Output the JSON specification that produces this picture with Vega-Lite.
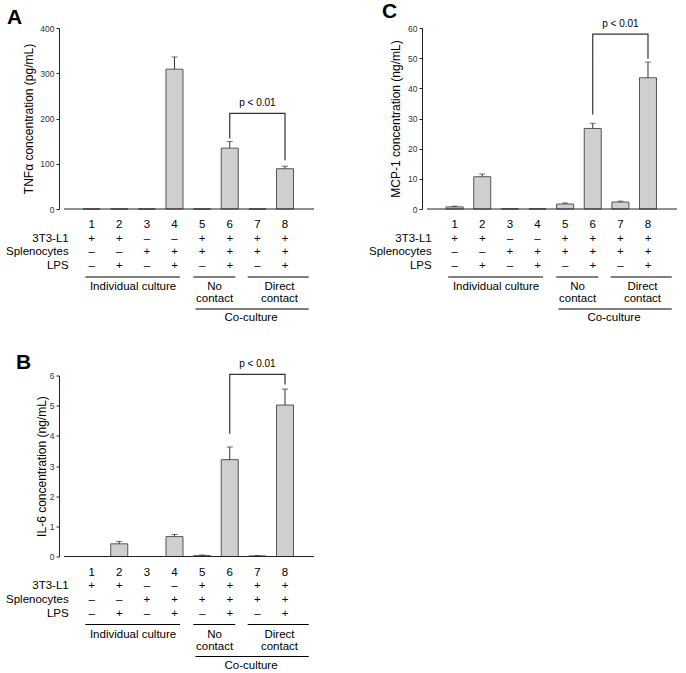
{
 "$schema": "https://vega.github.io/schema/vega-lite/v6.json",
 "background": "white",
 "padding": {"left": 6, "top": 1, "right": 0, "bottom": 0},
 "config": {"font": "Liberation Sans", "view": {"stroke": null}},
 "columns": 2,
 "align": "all",
 "spacing": {"row": 27.5, "column": 50},
 "datasets": {
  "barsA": [{"cond":1,"mean":0,"hi":0},{"cond":2,"mean":0,"hi":0},{"cond":3,"mean":0,"hi":0},{"cond":4,"mean":309,"hi":336},{"cond":5,"mean":0,"hi":0},{"cond":6,"mean":134.5,"hi":149},{"cond":7,"mean":0,"hi":0},{"cond":8,"mean":89,"hi":94.4}],
  "barsC": [{"cond":1,"mean":0.7,"hi":0.95},{"cond":2,"mean":10.7,"hi":11.6},{"cond":3,"mean":0.05,"hi":0.05},{"cond":4,"mean":0.05,"hi":0.05},{"cond":5,"mean":1.65,"hi":2.0},{"cond":6,"mean":26.7,"hi":28.4},{"cond":7,"mean":2.3,"hi":2.6},{"cond":8,"mean":43.5,"hi":48.7}],
  "barsB": [{"cond":1,"mean":0,"hi":0},{"cond":2,"mean":0.42,"hi":0.5},{"cond":3,"mean":0,"hi":0},{"cond":4,"mean":0.66,"hi":0.73},{"cond":5,"mean":0.03,"hi":0.05},{"cond":6,"mean":3.21,"hi":3.63},{"cond":7,"mean":0.02,"hi":0.03},{"cond":8,"mean":5.02,"hi":5.55}],
  "brA": [{"cond":6,"v":156,"o":1},{"cond":6,"v":211.5,"o":2},{"cond":8,"v":211.5,"o":3},{"cond":8,"v":108,"o":4}],
  "brC": [{"cond":6,"v":31.3,"o":1},{"cond":6,"v":58,"o":2},{"cond":8,"v":58,"o":3},{"cond":8,"v":49.8,"o":4}],
  "brB": [{"cond":6,"v":4.07,"o":1},{"cond":6,"v":6.04,"o":2},{"cond":8,"v":6.04,"o":3},{"cond":8,"v":5.7,"o":4}],
  "pA": [{"cond":7,"v":211.5,"label":"p < 0.01"}],
  "pC": [{"cond":7,"v":58,"label":"p < 0.01"}],
  "pB": [{"cond":7,"v":6.04,"label":"p < 0.01"}],
  "table": [
   {"cond":1,"row":"num","sign":"1"},{"cond":2,"row":"num","sign":"2"},{"cond":3,"row":"num","sign":"3"},{"cond":4,"row":"num","sign":"4"},{"cond":5,"row":"num","sign":"5"},{"cond":6,"row":"num","sign":"6"},{"cond":7,"row":"num","sign":"7"},{"cond":8,"row":"num","sign":"8"},
   {"cond":1,"row":"3T3-L1","sign":"+"},{"cond":2,"row":"3T3-L1","sign":"+"},{"cond":3,"row":"3T3-L1","sign":"–"},{"cond":4,"row":"3T3-L1","sign":"–"},{"cond":5,"row":"3T3-L1","sign":"+"},{"cond":6,"row":"3T3-L1","sign":"+"},{"cond":7,"row":"3T3-L1","sign":"+"},{"cond":8,"row":"3T3-L1","sign":"+"},
   {"cond":1,"row":"Splenocytes","sign":"–"},{"cond":2,"row":"Splenocytes","sign":"–"},{"cond":3,"row":"Splenocytes","sign":"+"},{"cond":4,"row":"Splenocytes","sign":"+"},{"cond":5,"row":"Splenocytes","sign":"+"},{"cond":6,"row":"Splenocytes","sign":"+"},{"cond":7,"row":"Splenocytes","sign":"+"},{"cond":8,"row":"Splenocytes","sign":"+"},
   {"cond":1,"row":"LPS","sign":"–"},{"cond":2,"row":"LPS","sign":"+"},{"cond":3,"row":"LPS","sign":"–"},{"cond":4,"row":"LPS","sign":"+"},{"cond":5,"row":"LPS","sign":"–"},{"cond":6,"row":"LPS","sign":"+"},{"cond":7,"row":"LPS","sign":"–"},{"cond":8,"row":"LPS","sign":"+"}
  ],
  "rowlabels": [{"row":"3T3-L1"},{"row":"Splenocytes"},{"row":"LPS"}],
  "lines1": [{"x1":0.77,"x2":4.2,"row":"grp"},{"x1":4.68,"x2":6.2,"row":"grp"},{"x1":6.65,"x2":8.86,"row":"grp"}],
  "lines2": [{"x1":4.76,"x2":8.86,"row":"co"}],
  "groups": [{"xc":2.5,"row":"grp","label":"Individual culture"},{"xc":5.45,"row":"grp","label":"No\ncontact"},{"xc":7.8,"row":"grp","label":"Direct\ncontact"}],
  "co": [{"xc":6.77,"row":"co","label":"Co-culture"}]
 },
 "concat": [
  {
   "title": {"text":"A","anchor":"start","frame":"group","dx":-52,"offset":-4,"fontSize":21,"fontWeight":"bold","color":"#000"},
   "width": 260, "height": 296,
   "resolve": {"scale": {"y": "independent"}},
   "layer": [
    {"layer": [
     {"data":{"name":"barsA"},
      "mark":{"type":"bar","orient":"vertical","width":17,"fill":"#cfcfcf","stroke":"#555555","strokeWidth":1},
      "encoding":{
       "x":{"field":"cond","type":"quantitative","scale":{"domain":[0,9.05],"nice":false,"zero":false},"axis":null},
       "y":{"field":"mean","type":"quantitative","title":"TNFα concentration (pg/mL)","scale":{"domain":[0,400],"range":[181,0],"nice":false},
            "axis":{"values":[0,100,200,300,400],"tickSize":3,"labelFontSize":8.5,"labelColor":"#333","titleFontSize":12,"titleFontWeight":"normal","titleColor":"#000","domainColor":"#222","tickColor":"#222","grid":false,"labelPadding":2,"titlePadding":4}}}},
     {"data":{"name":"barsA"},"transform":[{"filter":"datum.hi > datum.mean"}],
      "mark":{"type":"rule","color":"#333333","strokeWidth":1},
      "encoding":{"x":{"field":"cond","type":"quantitative","axis":null},"y":{"field":"mean","type":"quantitative","title":"TNFα concentration (pg/mL)"},"y2":{"field":"hi"}}},
     {"data":{"name":"barsA"},"transform":[{"filter":"datum.hi > datum.mean"}],
      "mark":{"type":"tick","orient":"horizontal","size":6,"thickness":1,"color":"#333333"},
      "encoding":{"x":{"field":"cond","type":"quantitative","axis":null},"y":{"field":"hi","type":"quantitative","title":"TNFα concentration (pg/mL)"}}},
     {"data":{"values":[{}]},"mark":{"type":"rule","color":"#222222","strokeWidth":1},
      "encoding":{"x":{"datum":0,"type":"quantitative","axis":null},"x2":{"datum":9.05},"y":{"datum":0,"type":"quantitative","title":"TNFα concentration (pg/mL)"}}},
     {"data":{"name":"brA"},"mark":{"type":"line","color":"#333333","strokeWidth":1.2},
      "encoding":{"x":{"field":"cond","type":"quantitative","axis":null},"y":{"field":"v","type":"quantitative","title":"TNFα concentration (pg/mL)"},"order":{"field":"o"}}},
     {"data":{"name":"pA"},"mark":{"type":"text","fontSize":10,"baseline":"alphabetic","dy":-7,"color":"#000"},
      "encoding":{"x":{"field":"cond","type":"quantitative","axis":null},"y":{"field":"v","type":"quantitative","title":"TNFα concentration (pg/mL)"},"text":{"field":"label"}}}
    ]},
    {"layer": [
     {"data":{"name":"table"},"mark":{"type":"text","fontSize":11.5,"color":"#000"},
      "encoding":{"x":{"field":"cond","type":"quantitative","axis":null},
                  "y":{"field":"row","type":"nominal","axis":null,"scale":{"type":"point","domain":["num","3T3-L1","Splenocytes","LPS","grp","gap","co"],"range":[197,279.2],"padding":0}},
                  "text":{"field":"sign"}}},
     {"data":{"name":"rowlabels"},"mark":{"type":"text","fontSize":11.5,"align":"right","color":"#000"},
      "encoding":{"x":{"datum":0.17,"type":"quantitative","axis":null},"y":{"field":"row","type":"nominal","axis":null},"text":{"field":"row"}}},
     {"data":{"name":"lines1"},"mark":{"type":"rule","color":"#000","strokeWidth":1},
      "encoding":{"x":{"field":"x1","type":"quantitative","axis":null},"x2":{"field":"x2"},"y":{"field":"row","type":"nominal","axis":null},"yOffset":{"value":-2.8}}},
     {"data":{"name":"lines2"},"mark":{"type":"rule","color":"#000","strokeWidth":1},
      "encoding":{"x":{"field":"x1","type":"quantitative","axis":null},"x2":{"field":"x2"},"y":{"field":"row","type":"nominal","axis":null},"yOffset":{"value":1.8}}},
     {"data":{"name":"groups"},"mark":{"type":"text","fontSize":11.5,"baseline":"top","lineBreak":"\n","lineHeight":12,"dy":1.5,"color":"#000"},
      "encoding":{"x":{"field":"xc","type":"quantitative","axis":null},"y":{"field":"row","type":"nominal","axis":null},"text":{"field":"label"}}},
     {"data":{"name":"co"},"mark":{"type":"text","fontSize":11.5,"baseline":"top","dy":5,"color":"#000"},
      "encoding":{"x":{"field":"xc","type":"quantitative","axis":null},"y":{"field":"row","type":"nominal","axis":null},"text":{"field":"label"}}}
    ]}
   ]
  },
  {
   "title": {"text":"C","anchor":"start","frame":"group","dx":-40,"offset":-3,"fontSize":21,"fontWeight":"bold","color":"#000"},
   "width": 260, "height": 296,
   "resolve": {"scale": {"y": "independent"}},
   "layer": [
    {"layer": [
     {"data":{"name":"barsC"},
      "mark":{"type":"bar","orient":"vertical","width":17,"fill":"#cfcfcf","stroke":"#555555","strokeWidth":1},
      "encoding":{
       "x":{"field":"cond","type":"quantitative","scale":{"domain":[0,9.05],"nice":false,"zero":false},"axis":null},
       "y":{"field":"mean","type":"quantitative","title":"MCP-1 concentration (ng/mL)","scale":{"domain":[0,60],"range":[181,0],"nice":false},
            "axis":{"values":[0,10,20,30,40,50,60],"tickSize":3,"labelFontSize":8.5,"labelColor":"#333","titleFontSize":12,"titleFontWeight":"normal","titleColor":"#000","domainColor":"#222","tickColor":"#222","grid":false,"labelPadding":2,"titlePadding":5}}}},
     {"data":{"name":"barsC"},"transform":[{"filter":"datum.hi > datum.mean"}],
      "mark":{"type":"rule","color":"#333333","strokeWidth":1},
      "encoding":{"x":{"field":"cond","type":"quantitative","axis":null},"y":{"field":"mean","type":"quantitative","title":"MCP-1 concentration (ng/mL)"},"y2":{"field":"hi"}}},
     {"data":{"name":"barsC"},"transform":[{"filter":"datum.hi > datum.mean"}],
      "mark":{"type":"tick","orient":"horizontal","size":6,"thickness":1,"color":"#333333"},
      "encoding":{"x":{"field":"cond","type":"quantitative","axis":null},"y":{"field":"hi","type":"quantitative","title":"MCP-1 concentration (ng/mL)"}}},
     {"data":{"values":[{}]},"mark":{"type":"rule","color":"#222222","strokeWidth":1},
      "encoding":{"x":{"datum":0,"type":"quantitative","axis":null},"x2":{"datum":9.05},"y":{"datum":0,"type":"quantitative","title":"MCP-1 concentration (ng/mL)"}}},
     {"data":{"name":"brC"},"mark":{"type":"line","color":"#333333","strokeWidth":1.2},
      "encoding":{"x":{"field":"cond","type":"quantitative","axis":null},"y":{"field":"v","type":"quantitative","title":"MCP-1 concentration (ng/mL)"},"order":{"field":"o"}}},
     {"data":{"name":"pC"},"mark":{"type":"text","fontSize":10,"baseline":"alphabetic","dy":-7,"color":"#000"},
      "encoding":{"x":{"field":"cond","type":"quantitative","axis":null},"y":{"field":"v","type":"quantitative","title":"MCP-1 concentration (ng/mL)"},"text":{"field":"label"}}}
    ]},
    {"layer": [
     {"data":{"name":"table"},"mark":{"type":"text","fontSize":11.5,"color":"#000"},
      "encoding":{"x":{"field":"cond","type":"quantitative","axis":null},
                  "y":{"field":"row","type":"nominal","axis":null,"scale":{"type":"point","domain":["num","3T3-L1","Splenocytes","LPS","grp","gap","co"],"range":[197,279.2],"padding":0}},
                  "text":{"field":"sign"}}},
     {"data":{"name":"rowlabels"},"mark":{"type":"text","fontSize":11.5,"align":"right","color":"#000"},
      "encoding":{"x":{"datum":0.17,"type":"quantitative","axis":null},"y":{"field":"row","type":"nominal","axis":null},"text":{"field":"row"}}},
     {"data":{"name":"lines1"},"mark":{"type":"rule","color":"#000","strokeWidth":1},
      "encoding":{"x":{"field":"x1","type":"quantitative","axis":null},"x2":{"field":"x2"},"y":{"field":"row","type":"nominal","axis":null},"yOffset":{"value":-2.8}}},
     {"data":{"name":"lines2"},"mark":{"type":"rule","color":"#000","strokeWidth":1},
      "encoding":{"x":{"field":"x1","type":"quantitative","axis":null},"x2":{"field":"x2"},"y":{"field":"row","type":"nominal","axis":null},"yOffset":{"value":1.8}}},
     {"data":{"name":"groups"},"mark":{"type":"text","fontSize":11.5,"baseline":"top","lineBreak":"\n","lineHeight":12,"dy":1.5,"color":"#000"},
      "encoding":{"x":{"field":"xc","type":"quantitative","axis":null},"y":{"field":"row","type":"nominal","axis":null},"text":{"field":"label"}}},
     {"data":{"name":"co"},"mark":{"type":"text","fontSize":11.5,"baseline":"top","dy":5,"color":"#000"},
      "encoding":{"x":{"field":"xc","type":"quantitative","axis":null},"y":{"field":"row","type":"nominal","axis":null},"text":{"field":"label"}}}
    ]}
   ]
  },
  {
   "title": {"text":"B","anchor":"start","frame":"group","dx":-43,"offset":-14,"fontSize":21,"fontWeight":"bold","color":"#000"},
   "width": 260, "height": 296,
   "resolve": {"scale": {"y": "independent"}},
   "layer": [
    {"layer": [
     {"data":{"name":"barsB"},
      "mark":{"type":"bar","orient":"vertical","width":17,"fill":"#cfcfcf","stroke":"#555555","strokeWidth":1},
      "encoding":{
       "x":{"field":"cond","type":"quantitative","scale":{"domain":[0,9.05],"nice":false,"zero":false},"axis":null},
       "y":{"field":"mean","type":"quantitative","title":"IL-6 concentration (ng/mL)","scale":{"domain":[0,6],"range":[181,0],"nice":false},
            "axis":{"values":[0,1,2,3,4,5,6],"tickSize":3,"labelFontSize":8.5,"labelColor":"#333","titleFontSize":12,"titleFontWeight":"normal","titleColor":"#000","domainColor":"#222","tickColor":"#222","grid":false,"labelPadding":2,"titlePadding":1}}}},
     {"data":{"name":"barsB"},"transform":[{"filter":"datum.hi > datum.mean"}],
      "mark":{"type":"rule","color":"#333333","strokeWidth":1},
      "encoding":{"x":{"field":"cond","type":"quantitative","axis":null},"y":{"field":"mean","type":"quantitative","title":"IL-6 concentration (ng/mL)"},"y2":{"field":"hi"}}},
     {"data":{"name":"barsB"},"transform":[{"filter":"datum.hi > datum.mean"}],
      "mark":{"type":"tick","orient":"horizontal","size":6,"thickness":1,"color":"#333333"},
      "encoding":{"x":{"field":"cond","type":"quantitative","axis":null},"y":{"field":"hi","type":"quantitative","title":"IL-6 concentration (ng/mL)"}}},
     {"data":{"values":[{}]},"mark":{"type":"rule","color":"#222222","strokeWidth":1},
      "encoding":{"x":{"datum":0,"type":"quantitative","axis":null},"x2":{"datum":9.05},"y":{"datum":0,"type":"quantitative","title":"IL-6 concentration (ng/mL)"}}},
     {"data":{"name":"brB"},"mark":{"type":"line","color":"#333333","strokeWidth":1.2},
      "encoding":{"x":{"field":"cond","type":"quantitative","axis":null},"y":{"field":"v","type":"quantitative","title":"IL-6 concentration (ng/mL)"},"order":{"field":"o"}}},
     {"data":{"name":"pB"},"mark":{"type":"text","fontSize":10,"baseline":"alphabetic","dy":-7,"color":"#000"},
      "encoding":{"x":{"field":"cond","type":"quantitative","axis":null},"y":{"field":"v","type":"quantitative","title":"IL-6 concentration (ng/mL)"},"text":{"field":"label"}}}
    ]},
    {"layer": [
     {"data":{"name":"table"},"mark":{"type":"text","fontSize":11.5,"color":"#000"},
      "encoding":{"x":{"field":"cond","type":"quantitative","axis":null},
                  "y":{"field":"row","type":"nominal","axis":null,"scale":{"type":"point","domain":["num","3T3-L1","Splenocytes","LPS","grp","gap","co"],"range":[197,279.2],"padding":0}},
                  "text":{"field":"sign"}}},
     {"data":{"name":"rowlabels"},"mark":{"type":"text","fontSize":11.5,"align":"right","color":"#000"},
      "encoding":{"x":{"datum":0.17,"type":"quantitative","axis":null},"y":{"field":"row","type":"nominal","axis":null},"text":{"field":"row"}}},
     {"data":{"name":"lines1"},"mark":{"type":"rule","color":"#000","strokeWidth":1},
      "encoding":{"x":{"field":"x1","type":"quantitative","axis":null},"x2":{"field":"x2"},"y":{"field":"row","type":"nominal","axis":null},"yOffset":{"value":-2.8}}},
     {"data":{"name":"lines2"},"mark":{"type":"rule","color":"#000","strokeWidth":1},
      "encoding":{"x":{"field":"x1","type":"quantitative","axis":null},"x2":{"field":"x2"},"y":{"field":"row","type":"nominal","axis":null},"yOffset":{"value":1.8}}},
     {"data":{"name":"groups"},"mark":{"type":"text","fontSize":11.5,"baseline":"top","lineBreak":"\n","lineHeight":12,"dy":1.5,"color":"#000"},
      "encoding":{"x":{"field":"xc","type":"quantitative","axis":null},"y":{"field":"row","type":"nominal","axis":null},"text":{"field":"label"}}},
     {"data":{"name":"co"},"mark":{"type":"text","fontSize":11.5,"baseline":"top","dy":5,"color":"#000"},
      "encoding":{"x":{"field":"xc","type":"quantitative","axis":null},"y":{"field":"row","type":"nominal","axis":null},"text":{"field":"label"}}}
    ]}
   ]
  }
 ]
}
